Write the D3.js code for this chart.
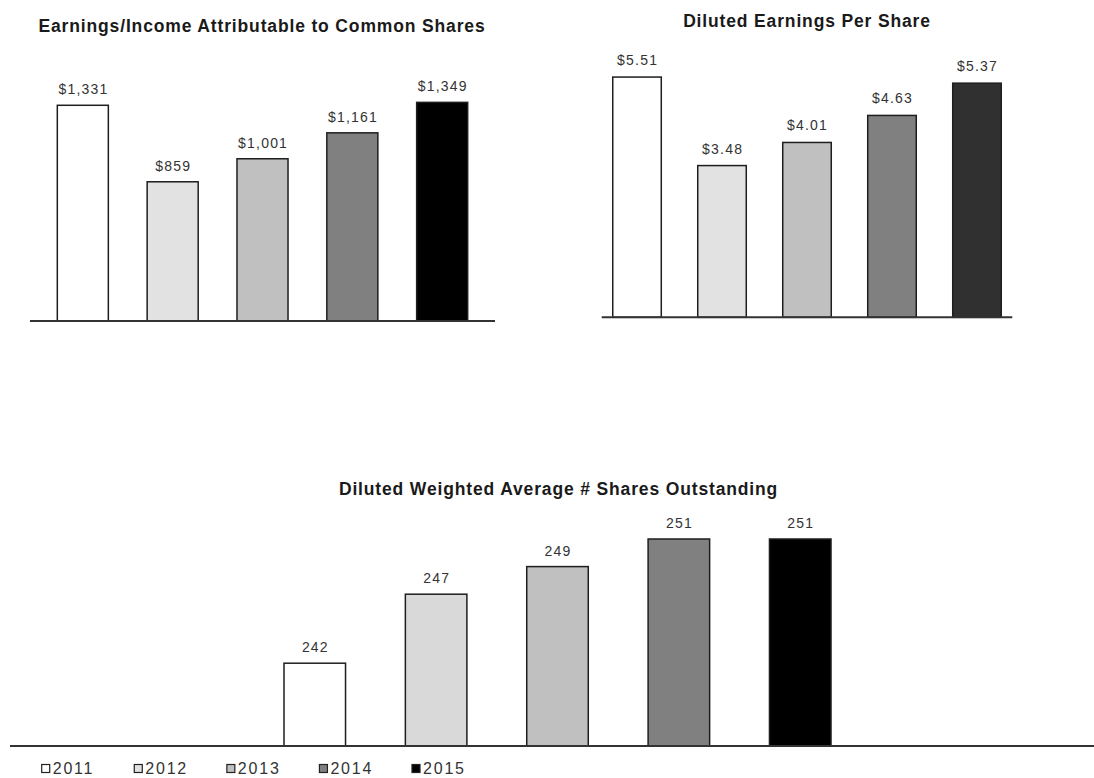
<!DOCTYPE html>
<html>
<head>
<meta charset="utf-8">
<script src="https://cdn.jsdelivr.net/npm/d3@7"></script>
<style>
  html, body { margin: 0; padding: 0; background: #fff; }
  svg { display: block; }
  text { font-family: "Liberation Sans", Arial, sans-serif; fill: #222; }
</style>
</head>
<body>
<svg id="chart" width="1094" height="778"></svg>
<script>
// ---- data ----
const years = ["2011", "2012", "2013", "2014", "2015"];
const earnings = [1331, 859, 1001, 1161, 1349];
const eps = [5.51, 3.48, 4.01, 4.63, 5.37];
const shares = [242, 247, 249, 251, 251];
const titles = [
  "Earnings/Income Attributable to Common Shares",
  "Diluted Earnings Per Share",
  "Diluted Weighted Average # Shares Outstanding"
];
const fills = ["#ffffff", "#e2e2e2", "#c0c0c0", "#808080", "#000000"];
const fillsEps = ["#ffffff", "#e2e2e2", "#c0c0c0", "#808080", "#303030"];
const fillsShares = ["#ffffff", "#d9d9d9", "#c0c0c0", "#808080", "#000000"];

const svg = d3.select("#chart");

function panel(cfg) {
  const g = svg.append("g");
  const x = d3.scaleBand().domain(years).range(cfg.xRange)
    .paddingInner(cfg.pi).paddingOuter(cfg.po);
  const y = d3.scaleLinear().domain(cfg.yDomain).range(cfg.yRange);
  const base = cfg.yDomain[0];

  g.selectAll("rect.bar").data(cfg.values).join("rect")
    .attr("class", "bar")
    .attr("x", (d, i) => x(years[i]))
    .attr("width", x.bandwidth())
    .attr("y", d => y(d))
    .attr("height", d => y(base) - y(d))
    .attr("fill", (d, i) => cfg.fills[i])
    .attr("stroke", "#1e1e1e")
    .attr("stroke-width", 1.5);

  g.selectAll("text.lbl").data(cfg.values).join("text")
    .attr("class", "lbl")
    .attr("x", (d, i) => x(years[i]) + x.bandwidth() / 2 + 0.6)
    .attr("y", d => y(d) - cfg.labelGap)
    .attr("text-anchor", "middle")
    .style("font-size", "14px")
    .style("letter-spacing", "1.2px")
    .style("fill", "#333")
    .text(cfg.fmt);

  // baseline axis
  g.append("line")
    .attr("x1", cfg.axisX[0]).attr("x2", cfg.axisX[1])
    .attr("y1", y(base)).attr("y2", y(base))
    .attr("stroke", "#333").attr("stroke-width", 2);

  g.append("text")
    .attr("x", cfg.titleX).attr("y", cfg.titleY)
    .attr("text-anchor", "middle")
    .style("font-size", "17.5px")
    .style("font-weight", "bold")
    .style("letter-spacing", "0.85px")
    .style("fill", "#1a1a1a")
    .text(cfg.title);
}

const fmtComma = d3.format(",");
const fmt2 = d3.format(".2f");

panel({
  values: earnings, fills: fills, title: titles[0],
  xRange: [30, 495], pi: 0.432, po: 0.304,
  yDomain: [0, 1400], yRange: [321, 94.1],
  axisX: [30, 495], labelGap: 11,
  titleX: 262, titleY: 32,
  fmt: d => "$" + fmtComma(d)
});

panel({
  values: eps, fills: fillsEps, title: titles[1],
  xRange: [601.7, 1012.3], pi: 0.429, po: 0.13,
  yDomain: [0, 6], yRange: [317.3, 55.7],
  axisX: [601.7, 1012.3], labelGap: 12,
  titleX: 807, titleY: 27,
  fmt: d => "$" + fmt2(d)
});

panel({
  values: shares, fills: fillsShares, title: titles[2],
  xRange: [284, 831], pi: 0.493, po: 0,
  yDomain: [236, 252], yRange: [746, 525.2],
  axisX: [10, 1094], labelGap: 11,
  titleX: 558.5, titleY: 495,
  fmt: d => String(d)
});

// legend
const leg = svg.append("g");
const legX = d3.scalePoint().domain(years).range([41.7, 412]);
const items = leg.selectAll("g").data(years).join("g")
  .attr("transform", d => `translate(${legX(d)},764.5)`);
items.append("rect")
  .attr("width", 8).attr("height", 8)
  .attr("fill", (d, i) => fills[i])
  .attr("stroke", "#222").attr("stroke-width", 1.2);
items.append("text")
  .attr("x", 11).attr("y", 9.5)
  .style("font-size", "16px")
  .style("letter-spacing", "1.8px")
  .style("fill", "#333")
  .text(d => d);
</script>
</body>
</html>
